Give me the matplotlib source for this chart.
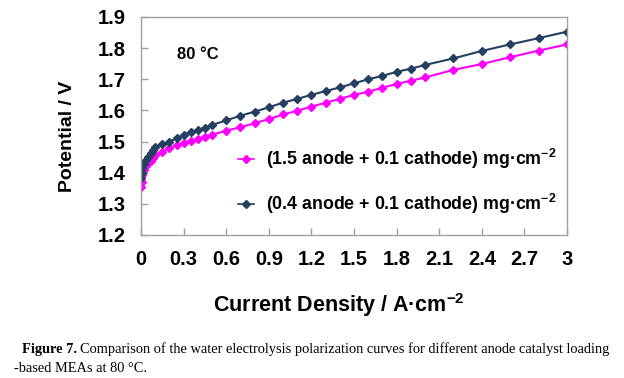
import matplotlib
matplotlib.use("Agg")
import matplotlib.pyplot as plt

plt.rcParams['font.family'] = ['Liberation Sans', 'DejaVu Sans']
plt.rcParams['mathtext.fontset'] = 'custom'
plt.rcParams['mathtext.rm'] = 'Liberation Sans:bold'
plt.rcParams['mathtext.bf'] = 'Liberation Sans:bold'
plt.rcParams['mathtext.it'] = 'Liberation Sans:bold'

# Current density (A/cm2)
current = [0, 0.005, 0.01, 0.02, 0.035, 0.05, 0.07, 0.085, 0.1, 0.15, 0.2, 0.25,
           0.3, 0.35, 0.4, 0.45, 0.5, 0.6, 0.7, 0.8, 0.9, 1.0, 1.1, 1.2, 1.3, 1.4,
           1.5, 1.6, 1.7, 1.8, 1.9, 2.0, 2.2, 2.4, 2.6, 2.8, 3.0]
# (1.5 anode + 0.1 cathode)
v_15 = [1.353, 1.371, 1.393, 1.409, 1.422, 1.430, 1.439, 1.446, 1.457, 1.467, 1.478, 1.489,
        1.496, 1.503, 1.509, 1.515, 1.522, 1.535, 1.546, 1.559, 1.572, 1.587, 1.599, 1.612,
        1.625, 1.637, 1.650, 1.660, 1.673, 1.685, 1.695, 1.706, 1.730, 1.749, 1.771, 1.792, 1.812]
# (0.4 anode + 0.1 cathode)
v_04 = [1.382, 1.398, 1.414, 1.428, 1.441, 1.451, 1.462, 1.473, 1.482, 1.491, 1.500, 1.510,
        1.522, 1.530, 1.537, 1.545, 1.553, 1.568, 1.583, 1.596, 1.610, 1.625, 1.637, 1.650,
        1.662, 1.674, 1.687, 1.700, 1.711, 1.724, 1.734, 1.746, 1.767, 1.791, 1.812, 1.832, 1.853]

x_ticks = [0, 0.3, 0.6, 0.9, 1.2, 1.5, 1.8, 2.1, 2.4, 2.7, 3.0]
x_ticklabels = ['0', '0.3', '0.6', '0.9', '1.2', '1.5', '1.8', '2.1', '2.4', '2.7', '3']
y_ticks = [1.2, 1.3, 1.4, 1.5, 1.6, 1.7, 1.8, 1.9]
y_ticklabels = ['1.2', '1.3', '1.4', '1.5', '1.6', '1.7', '1.8', '1.9']

label_15 = r'(1.5 anode + 0.1 cathode) mg·cm$^{-2}$'
label_04 = r'(0.4 anode + 0.1 cathode) mg·cm$^{-2}$'

fig = plt.figure(figsize=(6.24, 3.78), dpi=100)
ax = fig.add_axes([141/624, 1-235/378, (567-141)/624, (235-17)/378])

ax.plot(current, v_15, color='#FF00FF', marker='D', markersize=4.5, linewidth=1.5, label=label_15)
ax.plot(current, v_04, color='#243F60', marker='D', markersize=4.5, linewidth=1.5, label=label_04)

ax.set_xlim(0, 3)
ax.set_ylim(1.2, 1.9)
ax.set_xticks(x_ticks)
ax.set_xticklabels(x_ticklabels)
ax.set_yticks(y_ticks)
ax.set_yticklabels(y_ticklabels)
ax.tick_params(direction='in', length=5, color='#A0A0A0', width=1, labelsize=14.5, pad=11)
for lbl in ax.get_xticklabels() + ax.get_yticklabels():
    lbl.set_fontweight('bold')
for sp in ax.spines.values():
    sp.set_color('#A0A0A0')
    sp.set_linewidth(1)

ax.text(0.085, 0.826, '80 °C', transform=ax.transAxes, fontsize=12, fontweight='bold',
        va='center', ha='left')

leg = ax.legend(loc='center left', bbox_to_anchor=(0.228, 0.245), frameon=False,
                prop={'size': 12.8, 'weight': 'bold'}, handlelength=0.9, markerscale=0.8,
                labelspacing=1.15, handletextpad=0.65, borderaxespad=0.0, borderpad=0.0)
for h in leg.legend_handles:
    h.set_linewidth(1.2)

fig.text(67/624, 1-136/378, 'Potential / V', rotation=90, ha='center', va='center',
         fontsize=14, fontweight='bold')
fig.text(339/624, 1-305/378, r'Current Density / A·cm$^{-2}$', ha='center', va='center',
         fontsize=15.5, fontweight='bold')

serif = ['Liberation Serif', 'DejaVu Serif']
t1 = fig.text(22/624, 1-349/378, 'Figure 7.', ha='left', va='center', fontsize=10.4,
              fontweight='bold', family=serif)
fig.canvas.draw()
bb = t1.get_window_extent()
fig.text(bb.x1/624 + 3/624, 1-349/378,
         'Comparison of the water electrolysis polarization curves for different anode catalyst loading',
         ha='left', va='center', fontsize=10.4, family=serif)
fig.text(14/624, 1-368/378, '-based MEAs at 80 °C.', ha='left', va='center', fontsize=10.4, family=serif)

fig.savefig('out.png', dpi=100)
